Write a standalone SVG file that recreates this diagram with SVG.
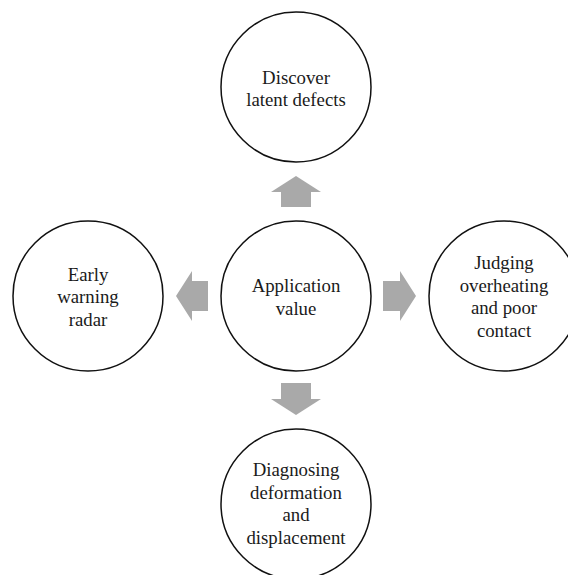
<svg xmlns="http://www.w3.org/2000/svg" width="568" height="575" viewBox="0 0 568 575">
<style>
.c{fill:#fff;stroke:#111;stroke-width:1.5}
.t{font-family:"Liberation Serif","Times New Roman",serif;font-size:18.8px;fill:#1a1a1a;text-anchor:middle}
.a{fill:#a9a9a9}
</style>
<rect width="568" height="575" fill="#fff"/>
<g id="connectors">
<polygon class="a" points="296,176 321,192 311,192 311,207 281,207 281,192 271,192"/>
<polygon class="a" points="176,296 192,271 192,281 208,281 208,311 192,311 192,321"/>
<polygon class="a" points="416,296 400,271 400,281 383,281 383,311 400,311 400,321"/>
<polygon class="a" points="296,415 321,399 311,399 311,383 281,383 281,399 271,399"/>
</g>
<g id="top">
<circle class="c" cx="296" cy="87" r="75"/>
<text class="t" x="296" y="83.5">Discover</text>
<text class="t" x="296" y="106">latent defects</text>
</g>
<g id="center">
<circle class="c" cx="296" cy="296" r="75"/>
<text class="t" x="296" y="292">Application</text>
<text class="t" x="296" y="314.5">value</text>
</g>
<g id="left">
<circle class="c" cx="88" cy="296" r="75"/>
<text class="t" x="88" y="280.5">Early</text>
<text class="t" x="88" y="303">warning</text>
<text class="t" x="88" y="325.5">radar</text>
</g>
<g id="right">
<circle class="c" cx="504" cy="296" r="75"/>
<text class="t" x="504" y="269">Judging</text>
<text class="t" x="504" y="291.5">overheating</text>
<text class="t" x="504" y="314">and poor</text>
<text class="t" x="504" y="336.5">contact</text>
</g>
<g id="bottom">
<circle class="c" cx="296" cy="504" r="75"/>
<text class="t" x="296" y="476">Diagnosing</text>
<text class="t" x="296" y="498.5">deformation</text>
<text class="t" x="296" y="521">and</text>
<text class="t" x="296" y="543.5">displacement</text>
</g>
</svg>
